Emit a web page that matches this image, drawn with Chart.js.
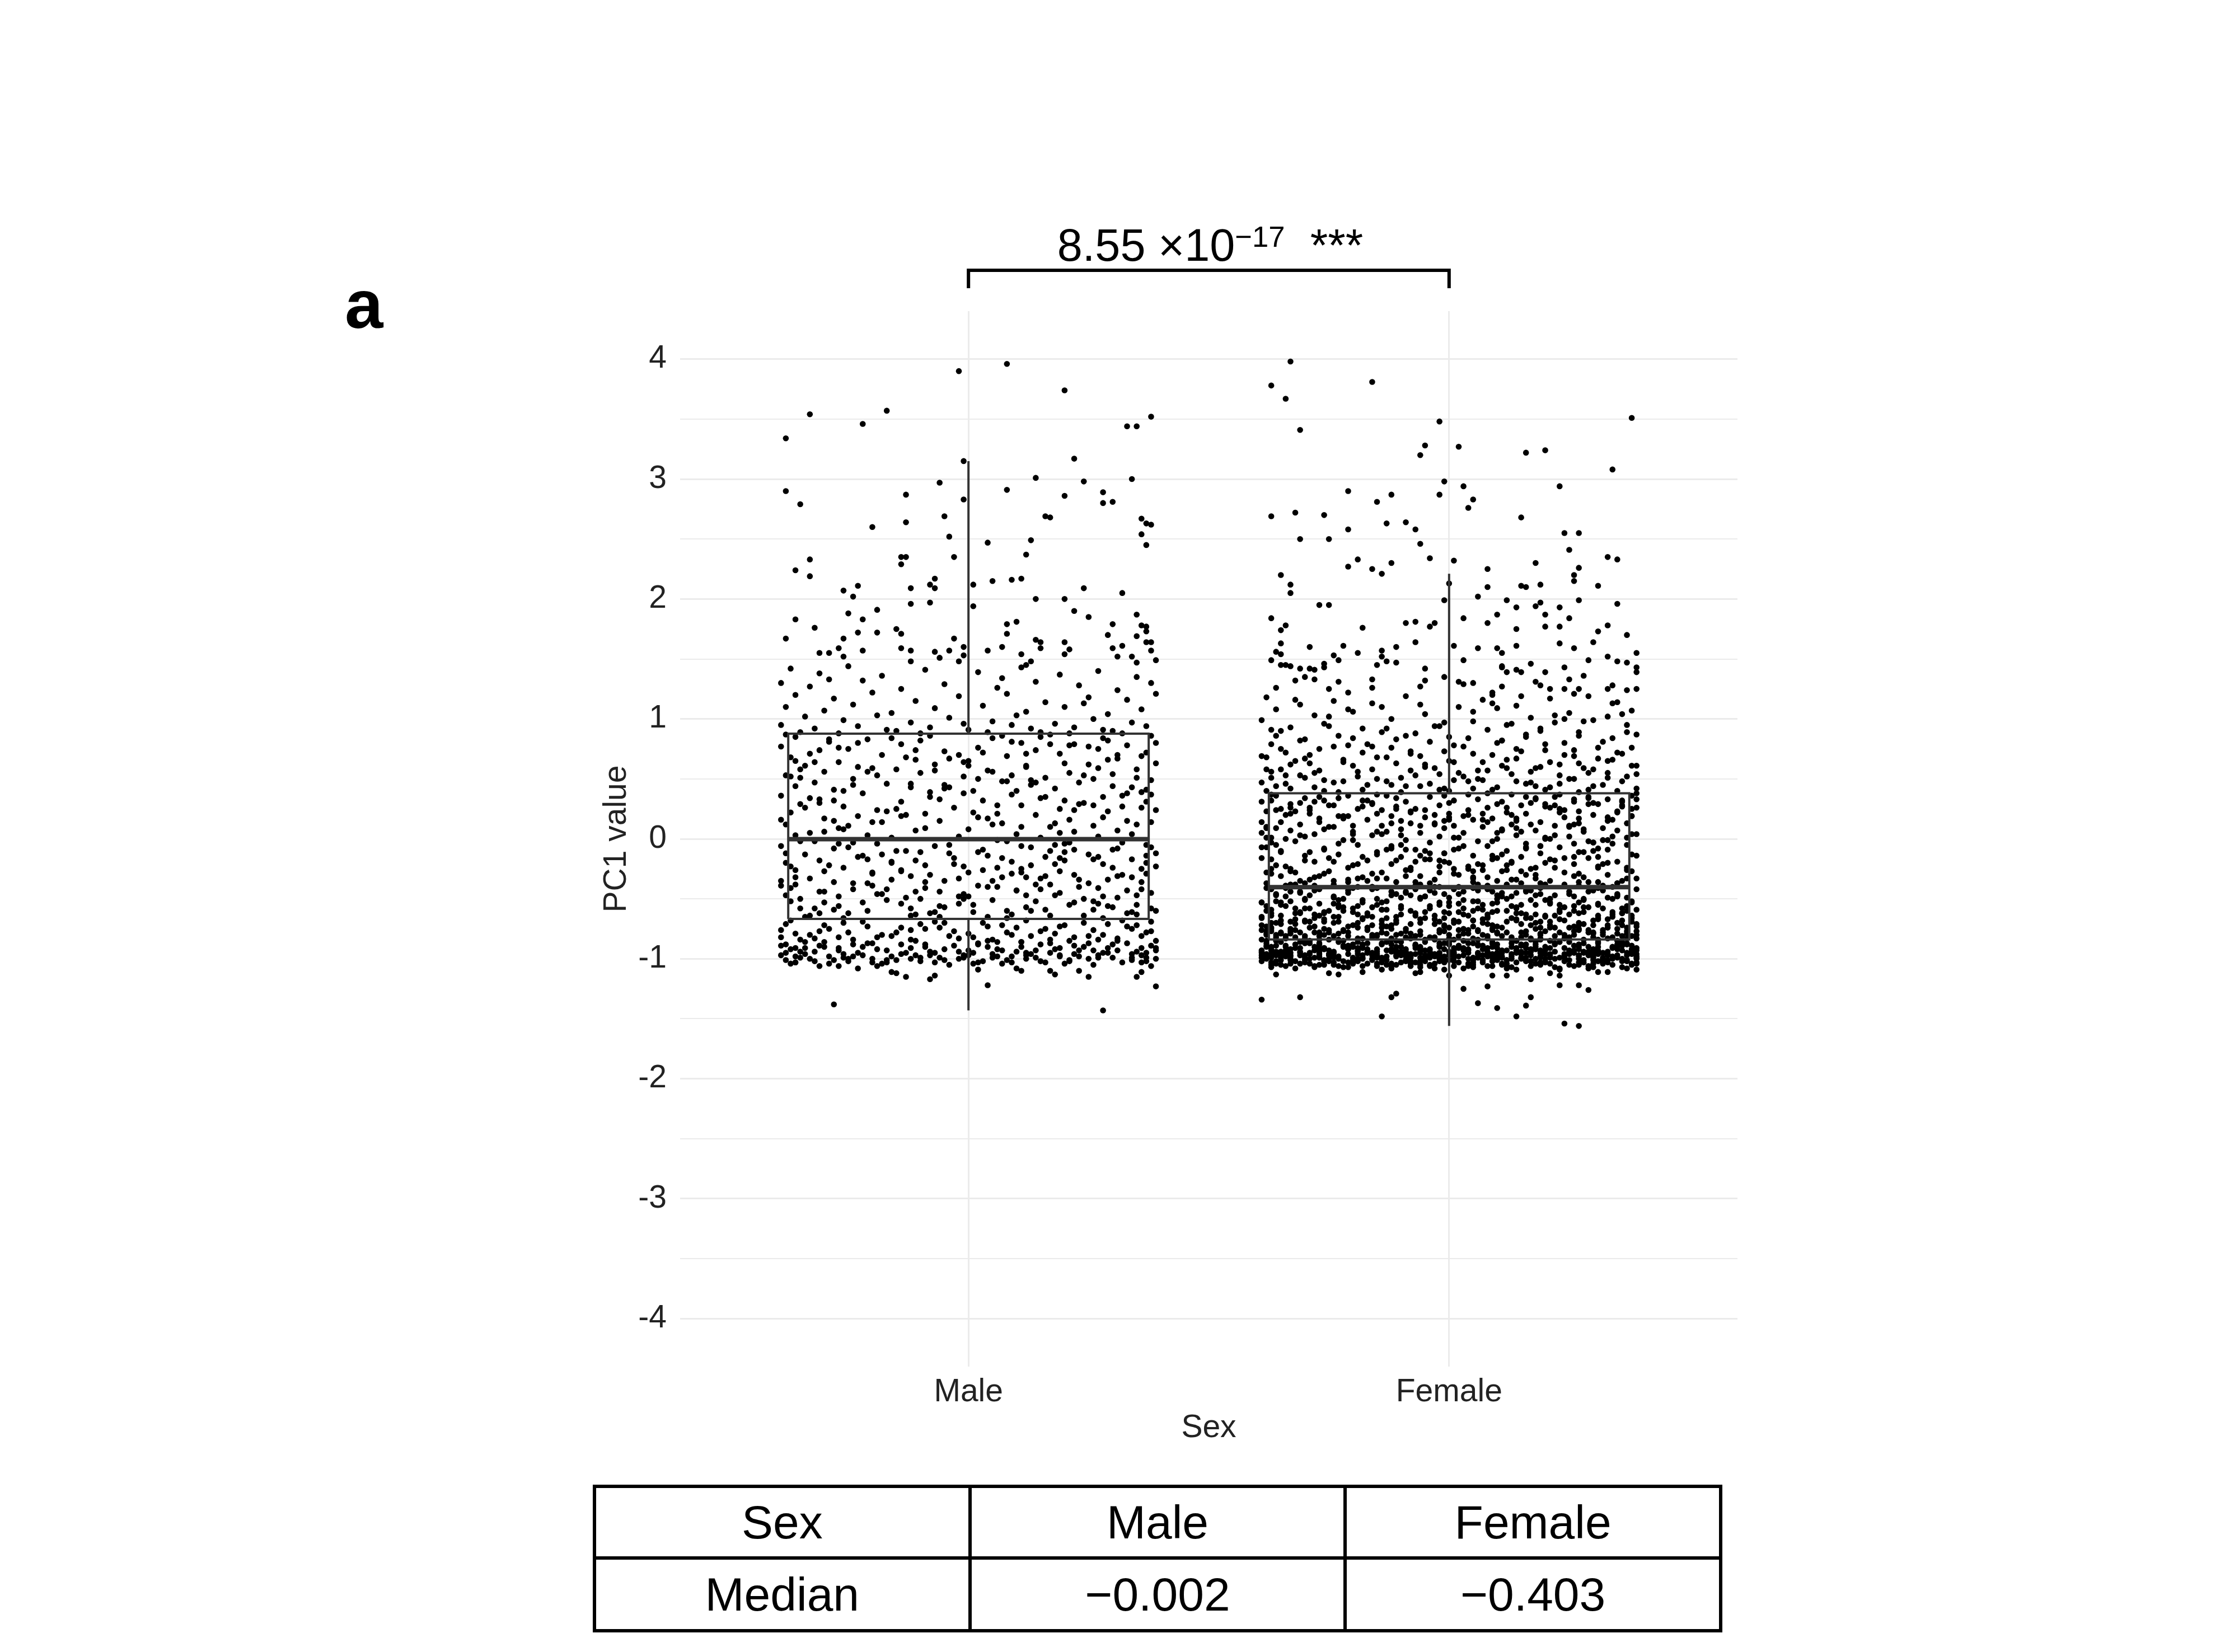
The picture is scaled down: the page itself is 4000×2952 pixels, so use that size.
<!DOCTYPE html>
<html>
<head>
<meta charset="utf-8">
<script src="https://cdn.jsdelivr.net/npm/chart.js@4.4.1/dist/chart.umd.min.js"></script>
<style>
  html, body { margin: 0; padding: 0; background: #fff; }
  body { width: 4000px; height: 2952px; position: relative; overflow: hidden; font-family: "Liberation Sans", Arial, sans-serif; }
  #c { position: absolute; left: 0; top: 0; }
  .panel { position: absolute; left: 616px; top: 482px; font-size: 123px; line-height: 123px; font-weight: bold; color: #000; }
  .ptitle { position: absolute; left: 1662px; top: 398px; width: 1000px; text-align: center; font-size: 81px; line-height: 81px; color: #000; white-space: pre; }
  .ptitle .sup { font-size: 0.65em; position: relative; top: -0.48em; }
  table.stats { position: absolute; left: 1059px; top: 2653px; width: 2018px; border-collapse: collapse; table-layout: fixed; }
  table.stats td { border: 6px solid #000; padding: 0; text-align: center; vertical-align: middle; font-size: 84px; color: #000; }
  table.stats tr.r1 td { height: 122px; }
  table.stats tr.r2 td { height: 124px; }
</style>
</head>
<body>
<canvas id="c" width="4000" height="2952"></canvas>
<div class="panel">a</div>
<div class="ptitle">8.55 ×10<span class="sup">−17</span>  ***</div>
<table class="stats">
  <tr class="r1"><td>Sex</td><td>Male</td><td>Female</td></tr>
  <tr class="r2"><td>Median</td><td>−0.002</td><td>−0.403</td></tr>
</table>
<script>
// 分类与箱线图统计量
const categories = ['Male', 'Female'];
const q1Values = [-0.667, -0.839];
const medianValues = [-0.002, -0.403];
const q3Values = [0.877, 0.380];
const whiskerLow = [-1.43, -1.56];
const whiskerHigh = [3.15, 2.21];

// y 轴刻度（整数为主网格，半数为次网格）
const yTickValues = [-4, -3.5, -3, -2.5, -2, -1.5, -1, -0.5, 0, 0.5, 1, 1.5, 2, 2.5, 3, 3.5, 4];

// 散点：每两个数一组 = [水平抖动偏移, PC1 值]
const malePoints = [
  // 上方稀疏点
  -0.02,3.90, 0.08,3.96, 0.20,3.74, -0.33,3.54, -0.17,3.57, -0.22,3.46, 0.38,3.52, 0.33,3.44, 0.35,3.44, -0.38,3.34,
  0.22,3.17, -0.01,3.15, 0.14,3.01, 0.24,2.98, 0.34,3.00, -0.06,2.97, 0.08,2.91, -0.38,2.90, -0.13,2.87, 0.20,2.86,
  0.28,2.89, 0.28,2.80, 0.30,2.81, -0.01,2.83, -0.35,2.79, -0.05,2.69, 0.16,2.69, 0.17,2.68, 0.36,2.67, 0.37,2.63,
  0.38,2.62, -0.13,2.64, -0.20,2.60, -0.04,2.52, 0.36,2.54, 0.37,2.45, 0.13,2.49, 0.04,2.47, 0.12,2.37, -0.33,2.33,
  -0.14,2.35, -0.13,2.35, -0.14,2.29, -0.03,2.35, -0.33,2.19, -0.36,2.24, 0.09,2.16, 0.11,2.17, 0.05,2.15, -0.07,2.17,
  -0.08,2.12, -0.07,2.09, -0.12,2.09, 0.01,2.12, -0.23,2.11, -0.26,2.07, -0.24,2.02, 0.24,2.09, 0.32,2.05, 0.14,2.00,
  0.20,2.00, -0.12,1.96, -0.08,1.97, 0.01,1.94, -0.36,1.83, -0.25,1.88, -0.19,1.91, 0.22,1.90, 0.35,1.87, -0.38,1.67,
  -0.32,1.76, -0.22,1.83, -0.23,1.72, -0.26,1.67, -0.19,1.72, -0.15,1.75, -0.14,1.71, 0.08,1.79, 0.08,1.71, 0.10,1.81,
  0.25,1.85, 0.30,1.79, 0.36,1.78, 0.37,1.77, 0.35,1.69, 0.37,1.73, 0.14,1.66, 0.15,1.64, 0.15,1.59, 0.20,1.64,
  0.21,1.58, 0.20,1.54, -0.03,1.67, -0.14,1.59, -0.12,1.57, -0.22,1.57, -0.26,1.52, -0.31,1.55, -0.29,1.55, -0.27,1.59,
  -0.12,1.48, -0.07,1.56, -0.06,1.51, -0.04,1.57, -0.01,1.60, -0.01,1.53, -0.02,1.48, 0.04,1.57, 0.07,1.60, 0.11,1.54,
  0.13,1.48, 0.12,1.45, 0.30,1.59, 0.32,1.61, 0.34,1.52, 0.35,1.47, 0.31,1.52, 0.37,1.64, 0.38,1.64, 0.38,1.57,
  0.39,1.49, 0.29,1.70,
  // Q3 以上 0.88 ~ 1.45
  -0.37,1.42, -0.31,1.38, -0.25,1.44, -0.18,1.36, -0.09,1.41, 0.02,1.39, 0.11,1.43, 0.19,1.37, 0.27,1.40, 0.35,1.35,
  -0.39,1.30, -0.33,1.27, -0.22,1.32, -0.14,1.25, -0.05,1.29, 0.06,1.26, 0.14,1.31, 0.23,1.28, 0.31,1.24, 0.38,1.30,
  -0.36,1.20, -0.28,1.17, -0.20,1.22, -0.11,1.15, -0.02,1.19, 0.08,1.21, 0.16,1.14, 0.25,1.18, 0.33,1.16, 0.39,1.21,
  -0.38,1.10, -0.30,1.07, -0.24,1.12, -0.16,1.05, -0.07,1.09, 0.03,1.11, 0.12,1.06, 0.20,1.10, 0.29,1.04, 0.36,1.08,
  -0.34,1.02, -0.26,0.99, -0.19,1.03, -0.12,0.97, -0.04,1.01, 0.05,0.98, 0.10,1.03, 0.18,0.96, 0.26,1.00, 0.34,0.97,
  -0.39,0.95, -0.32,0.92, -0.23,0.94, -0.15,0.90, -0.08,0.93, 0.00,0.91, 0.09,0.95, 0.15,0.89, 0.22,0.93, 0.30,0.90,
  0.37,0.94, -0.35,0.89, -0.27,0.88, -0.17,0.91, -0.10,0.88, 0.04,0.89, 0.13,0.92, 0.21,0.88, 0.28,0.91, 0.32,0.88,
  -0.01,0.96, 0.24,1.13, -0.29,1.33, 0.07,1.34,
  // 箱体上半 0 ~ 0.877
  -0.36,0.85, -0.21,0.83, -0.08,0.86, 0.05,0.84, 0.17,0.87, 0.29,0.82, 0.38,0.86, -0.29,0.81, 0.11,0.80, -0.14,0.79,
  0.33,0.78, -0.39,0.77, 0.02,0.76, -0.25,0.75, 0.22,0.79, -0.05,0.73, 0.14,0.74, 0.37,0.72, -0.33,0.71, 0.27,0.75,
  -0.18,0.70, 0.08,0.69, -0.37,0.68, 0.31,0.67, -0.11,0.66, 0.19,0.71, -0.27,0.64, 0.00,0.65, 0.39,0.63, -0.02,0.70,
  0.25,0.62, -0.34,0.61, 0.12,0.60, -0.20,0.59, 0.35,0.58, -0.07,0.62, 0.04,0.57, -0.30,0.56, 0.21,0.55, -0.15,0.58,
  0.30,0.54, -0.38,0.53, -0.01,0.52, 0.16,0.51, -0.24,0.50, 0.38,0.49, -0.10,0.55, 0.07,0.48, -0.32,0.47, 0.26,0.50,
  -0.17,0.46, 0.13,0.45, -0.36,0.44, 0.34,0.43, -0.05,0.42, 0.23,0.47, -0.28,0.41, 0.01,0.40, 0.18,0.42, -0.12,0.43,
  0.36,0.39, -0.22,0.38, 0.09,0.37, -0.39,0.36, 0.28,0.35, -0.08,0.39, 0.15,0.34, -0.31,0.33, 0.03,0.32, 0.32,0.36,
  -0.14,0.31, 0.24,0.30, -0.35,0.29, 0.06,0.28, -0.26,0.27, 0.37,0.31, -0.03,0.26, 0.19,0.25, -0.19,0.24, 0.11,0.28,
  0.29,0.23, -0.37,0.22, -0.09,0.21, 0.14,0.20, -0.23,0.19, 0.39,0.24, 0.02,0.18, -0.30,0.17, 0.21,0.16, -0.13,0.20,
  0.33,0.15, -0.18,0.14, 0.07,0.13, -0.38,0.12, 0.26,0.11, -0.06,0.15, 0.17,0.10, -0.27,0.09, 0.00,0.08, 0.35,0.12,
  -0.11,0.07, 0.22,0.06, -0.33,0.05, 0.10,0.04, -0.21,0.03, 0.31,0.07, -0.02,0.02, 0.15,0.01, -0.36,0.03, 0.27,0.02,
  -0.16,0.84, 0.09,0.81, 0.25,0.77, -0.31,0.74, 0.36,0.69, -0.04,0.67, 0.20,0.63, -0.23,0.60, 0.05,0.56, -0.37,0.52,
  0.13,0.49, -0.12,0.46, 0.30,0.44, -0.26,0.40, 0.38,0.37, -0.06,0.33, 0.23,0.29, -0.34,0.26, 0.01,0.22, 0.28,0.18,
  -0.20,0.14, 0.11,0.10, -0.30,0.06, 0.34,0.04, -0.09,0.09, 0.18,0.13, -0.39,0.16, 0.06,0.21, -0.15,0.25, 0.32,0.27,
  -0.28,0.32, 0.16,0.35, -0.01,0.38, 0.37,0.41, -0.24,0.45, 0.08,0.48, -0.35,0.51, 0.24,0.53, -0.07,0.57, 0.12,0.61,
  -0.32,0.64, 0.29,0.66, -0.13,0.68, 0.03,0.72, -0.27,0.76, 0.21,0.78, 0.39,0.80, -0.10,0.82, 0.15,0.85, -0.38,0.87,
  0.19,0.05, -0.25,0.11, 0.04,0.17, -0.17,0.23, 0.26,0.28, -0.33,0.34, 0.10,0.40, -0.05,0.45, 0.35,0.51, -0.21,0.56,
  0.00,0.61, -0.36,0.65, 0.31,0.70, -0.11,0.74, 0.17,0.79, -0.29,0.83, 0.07,0.86, 0.27,0.59, -0.19,0.53, 0.14,0.47,
  -0.04,0.43, 0.33,0.38, -0.31,0.30, 0.22,0.24, -0.14,0.19, 0.05,0.12, -0.26,0.08, 0.38,0.14, -0.08,0.35, 0.12,0.71,
  -0.23,0.80, 0.28,0.84, -0.35,0.58, 0.02,0.50, 0.20,0.32, -0.16,0.01, 0.36,0.26, -0.01,0.64, 0.09,0.53, -0.28,0.15,
  // 箱体下半 -0.667 ~ 0
  -0.35,-0.02, -0.19,-0.04, 0.06,-0.01, 0.21,-0.03, 0.37,-0.05, -0.07,-0.06, 0.13,-0.07, -0.28,-0.08, 0.30,-0.09, -0.13,-0.10,
  0.02,-0.11, -0.38,-0.12, 0.25,-0.13, -0.22,-0.14, 0.16,-0.15, -0.03,-0.16, 0.34,-0.17, -0.31,-0.18, 0.09,-0.19, -0.16,-0.20,
  0.28,-0.21, -0.09,-0.22, 0.39,-0.23, -0.26,-0.24, 0.11,-0.25, -0.36,-0.26, 0.19,-0.27, 0.00,-0.28, -0.20,-0.29, 0.32,-0.30,
  -0.12,-0.31, 0.07,-0.32, -0.33,-0.33, 0.23,-0.34, -0.05,-0.35, 0.36,-0.36, -0.24,-0.37, 0.14,-0.38, -0.39,-0.39, 0.04,-0.40,
  0.27,-0.41, -0.17,-0.42, 0.10,-0.43, -0.30,-0.44, 0.38,-0.45, -0.01,-0.46, 0.18,-0.47, -0.27,-0.48, 0.31,-0.49, -0.10,-0.50,
  0.05,-0.51, -0.37,-0.52, 0.22,-0.53, -0.14,-0.54, 0.35,-0.55, -0.06,-0.56, 0.12,-0.57, -0.32,-0.58, 0.26,-0.59, -0.21,-0.60,
  0.01,-0.61, 0.33,-0.62, -0.11,-0.63, 0.17,-0.64, -0.34,-0.65, 0.08,-0.66, -0.25,-0.62, 0.38,-0.58, -0.02,-0.54, 0.24,-0.50,
  -0.18,-0.46, 0.15,-0.42, -0.36,-0.38, 0.29,-0.34, -0.08,-0.30, 0.03,-0.26, -0.29,-0.22, 0.20,-0.18, 0.37,-0.14, -0.15,-0.10,
  0.11,-0.06, -0.24,-0.03, 0.31,-0.08, -0.04,-0.12, 0.19,-0.16, -0.38,-0.20, 0.06,-0.24, -0.20,-0.28, 0.34,-0.32, -0.09,-0.36,
  0.23,-0.40, -0.31,-0.44, 0.00,-0.48, 0.14,-0.52, -0.27,-0.56, 0.39,-0.60, -0.12,-0.64, 0.28,-0.66, -0.06,-0.44, 0.09,-0.29,
  -0.34,-0.13, 0.18,-0.05, -0.16,-0.19, 0.36,-0.25, -0.02,-0.33, 0.25,-0.37, -0.37,-0.41, 0.12,-0.47, -0.22,-0.53, 0.30,-0.57,
  -0.07,-0.61, 0.04,-0.65, -0.28,-0.59, 0.21,-0.55, -0.13,-0.49, 0.33,-0.43, -0.39,-0.35, 0.16,-0.31, -0.01,-0.23, 0.27,-0.15,
  -0.25,-0.07, 0.08,-0.02, -0.10,-0.11, 0.37,-0.20, -0.30,-0.27, 0.02,-0.39, 0.19,-0.45, -0.17,-0.51, 0.35,-0.63, -0.05,-0.57,
  0.13,-0.60, -0.33,-0.64, 0.26,-0.52, -0.19,-0.46, 0.06,-0.40, -0.36,-0.32, 0.30,-0.24, -0.11,-0.18, 0.17,-0.10, -0.27,-0.04,
  0.39,-0.12, -0.03,-0.21, 0.22,-0.30, -0.21,-0.37, 0.10,-0.43, -0.35,-0.50, 0.29,-0.56, -0.08,-0.62, 0.15,-0.33, -0.14,-0.26,
  0.32,-0.03, -0.23,-0.15, 0.03,-0.09, -0.38,-0.47, 0.24,-0.64, -0.12,-0.58, 0.07,-0.16, 0.36,-0.42, -0.30,-0.53, 0.18,-0.21,
  -0.16,-0.34, 0.11,-0.28, -0.04,-0.05, 0.28,-0.48, -0.26,-0.66, 0.01,-0.55, 0.34,-0.61, -0.20,-0.39, 0.20,-0.11, -0.37,-0.23,
  0.05,-0.35, -0.11,-0.44, 0.26,-0.17, -0.32,-0.02, 0.16,-0.59, -0.01,-0.50, 0.38,-0.07, -0.24,-0.42, 0.09,-0.63, -0.18,-0.13,
  0.31,-0.31, -0.06,-0.65, 0.13,-0.22, -0.35,-0.58, 0.22,-0.09, -0.14,-0.27, 0.35,-0.47, -0.28,-0.36, 0.04,-0.14, 0.17,-0.38,
  -0.39,-0.06, 0.27,-0.54, -0.09,-0.41, 0.08,-0.60, -0.21,-0.17, 0.37,-0.29, -0.02,-0.48, 0.20,-0.04, -0.31,-0.62, 0.12,-0.32,
  // Q1 以下
  -0.28,-1.38, 0.28,-1.43, 0.04,-1.22, 0.39,-1.23, -0.13,-1.15, -0.15,-1.12, -0.16,-1.11, -0.08,-1.17, -0.07,-1.14, 0.18,-1.13,
  0.17,-1.10, 0.23,-1.10, 0.25,-1.15, 0.35,-1.15, 0.36,-1.11, 0.02,-1.09, 0.02,-1.03, 0.11,-1.10, 0.10,-1.08, -0.23,-1.08,
  -0.27,-1.06, -0.31,-1.06, -0.19,-1.06, -0.20,-1.03, -0.36,-1.03, -0.37,-1.04, 0.38,-1.06,
  -0.37,-0.68, -0.22,-0.69, -0.05,-0.70, 0.12,-0.68, 0.29,-0.71, 0.38,-0.69, -0.30,-0.72, 0.04,-0.73, 0.20,-0.72, -0.14,-0.74,
  0.34,-0.75, -0.39,-0.76, -0.09,-0.75, 0.15,-0.77, -0.25,-0.78, 0.26,-0.76, 0.00,-0.79, -0.33,-0.80, 0.08,-0.78, 0.36,-0.81,
  -0.18,-0.80, 0.22,-0.82, -0.02,-0.83, -0.35,-0.84, 0.31,-0.83, -0.11,-0.85, 0.17,-0.84, -0.27,-0.82, 0.06,-0.86, 0.39,-0.85,
  -0.07,-0.69, 0.24,-0.70, -0.38,-0.71, 0.10,-0.74, -0.21,-0.73, 0.33,-0.73, -0.03,-0.77, 0.18,-0.79, -0.31,-0.77, 0.28,-0.80,
  -0.16,-0.81, 0.01,-0.82, -0.36,-0.79, 0.13,-0.81, 0.37,-0.78, -0.24,-0.84, 0.21,-0.85, -0.12,-0.76, 0.07,-0.72, -0.29,-0.75,
  0.32,-0.68, -0.10,-0.71, 0.16,-0.75, -0.34,-0.86, 0.03,-0.70, 0.27,-0.84, -0.20,-0.87, 0.11,-0.86, -0.04,-0.81, 0.35,-0.72,
  -0.26,-0.70, 0.19,-0.73, -0.06,-0.74, 0.38,-0.77, -0.32,-0.83, 0.09,-0.80, -0.15,-0.78, 0.25,-0.81, -0.39,-0.82, 0.05,-0.84,
  -0.38,-0.88, -0.30,-0.90, -0.21,-0.87, -0.12,-0.91, -0.03,-0.89, 0.06,-0.92, 0.15,-0.88, 0.24,-0.90, 0.33,-0.87, 0.39,-0.93,
  -0.35,-0.94, -0.26,-0.96, -0.17,-0.93, -0.08,-0.97, 0.01,-0.95, 0.10,-0.94, 0.19,-0.98, 0.28,-0.95, 0.36,-0.97, -0.01,-0.99,
  -0.33,-1.00, -0.24,-0.98, -0.15,-1.01, -0.06,-0.99, 0.03,-1.02, 0.12,-1.00, 0.21,-1.01, 0.30,-0.99, 0.37,-1.02, -0.39,-0.97,
  -0.36,-1.03, -0.28,-1.01, -0.18,-1.04, -0.10,-1.02, 0.07,-1.04, 0.16,-1.03, 0.26,-1.05, 0.34,-1.01, -0.04,-1.05, 0.23,-0.93,
  -0.31,-0.89, -0.19,-0.92, -0.09,-0.88, 0.04,-0.90, 0.13,-0.96, 0.22,-0.89, 0.31,-0.93, -0.37,-0.92, 0.38,-0.89, -0.23,-0.95,
  -0.13,-0.95, 0.00,-0.93, 0.09,-0.98, 0.18,-0.92, 0.27,-0.97, 0.35,-0.94, -0.29,-0.98, -0.02,-1.00, 0.14,-0.99, -0.34,-0.96,
  0.25,-1.00, -0.20,-1.00, 0.32,-1.03, -0.11,-0.97, 0.05,-0.96, -0.27,-0.93, 0.17,-0.95, -0.05,-0.92, 0.37,-0.99, -0.16,-0.98,
  0.02,-0.87, -0.38,-1.01, 0.11,-0.90, -0.25,-1.02, 0.29,-0.91, -0.07,-1.03, 0.20,-1.04, -0.32,-0.94, 0.08,-1.01, -0.14,-0.88,
  0.34,-0.96, -0.22,-0.90, 0.15,-1.02, -0.36,-0.91, 0.26,-0.93, -0.01,-0.97, 0.39,-1.00, -0.17,-1.03, 0.06,-0.98, -0.29,-1.04,
  0.12,-0.95, -0.08,-0.94, 0.30,-0.88, -0.26,-0.99, 0.19,-0.97, -0.35,-0.99, 0.01,-1.04, -0.12,-1.00, 0.23,-0.98, 0.36,-0.91,
  -0.34,-0.91, -0.14,-0.96, 0.07,-0.93, 0.27,-0.99, -0.25,-1.00, 0.17,-0.87, 0.37,-0.95, -0.05,-1.01, 0.12,-0.97, -0.38,-0.95,
  0.31,-0.85, -0.19,-0.82, 0.02,-0.88, -0.30,-0.86, 0.22,-0.96, -0.09,-0.90, 0.39,-0.91, -0.22,-0.97, 0.09,-1.03, -0.02,-0.94,
  0.19,-0.91, -0.36,-0.98, 0.34,-0.99, -0.12,-0.84, 0.05,-0.99, -0.27,-0.91, 0.25,-0.87, -0.07,-0.95, 0.14,-0.93, -0.32,-1.02,
  0.29,-0.95, -0.17,-1.01, 0.00,-0.97, -0.39,-0.89, 0.11,-0.86, 0.36,-1.03, -0.24,-0.88, 0.21,-1.02, -0.10,-0.99, 0.04,-0.85
];

const femalePoints = [
  // 上方稀疏点
  -0.33,3.98, -0.37,3.78, -0.16,3.81, -0.34,3.67, -0.31,3.41, -0.02,3.48, 0.38,3.51, -0.06,3.20, -0.05,3.28, 0.02,3.27,
  0.16,3.22, 0.20,3.24, 0.34,3.08, -0.01,2.98, 0.03,2.94, 0.23,2.94, -0.21,2.90, -0.12,2.87, -0.02,2.87, -0.15,2.81,
  0.05,2.83, 0.04,2.76, -0.37,2.69, -0.32,2.72, -0.26,2.70, -0.13,2.63, -0.09,2.64, -0.07,2.58, -0.21,2.58, 0.15,2.68,
  0.24,2.55, 0.27,2.55, 0.25,2.41, -0.31,2.50, -0.25,2.50, -0.06,2.46, -0.04,2.34, 0.01,2.32, -0.19,2.33, -0.21,2.27,
  -0.12,2.30, -0.16,2.25, -0.14,2.21, 0.18,2.30, 0.33,2.35, 0.35,2.33, 0.08,2.25, 0.27,2.26, 0.26,2.20, 0.26,2.15,
  -0.35,2.20, -0.33,2.12, -0.33,2.05, 0.00,2.13, -0.01,1.99, 0.08,2.10, 0.15,2.11, 0.16,2.10, 0.19,2.12, 0.31,2.11,
  0.06,2.02, 0.12,1.99, 0.14,1.93, 0.18,1.94, 0.19,1.97, 0.27,1.99, 0.35,1.96, -0.27,1.95, -0.25,1.95, -0.37,1.84,
  -0.34,1.78, -0.35,1.74, -0.18,1.76, -0.09,1.80, -0.07,1.81, -0.04,1.77, -0.03,1.80, 0.03,1.84, 0.10,1.87, 0.20,1.87,
  0.20,1.77, 0.23,1.93, 0.23,1.77, 0.25,1.84, 0.33,1.78, 0.08,1.80, 0.14,1.75, 0.31,1.73, 0.37,1.70, -0.35,1.63,
  -0.36,1.56, -0.35,1.54, -0.29,1.60, -0.22,1.61, -0.19,1.55, -0.14,1.57, -0.14,1.52, -0.11,1.60, -0.07,1.64, 0.01,1.61,
  0.06,1.59, 0.14,1.61, 0.23,1.63, 0.26,1.59, 0.10,1.59, 0.11,1.55, 0.30,1.64, 0.33,1.52, 0.39,1.55, -0.37,1.49,
  -0.35,1.45, -0.34,1.45, -0.33,1.44, -0.24,1.53, -0.23,1.49, -0.26,1.46, -0.26,1.43, -0.31,1.42, -0.29,1.42, -0.28,1.41,
  -0.30,1.35, -0.28,1.33, -0.15,1.45, -0.13,1.48, -0.11,1.47, -0.05,1.42, -0.05,1.32, -0.06,1.27, -0.01,1.35, 0.03,1.49,
  0.02,1.31, 0.03,1.29, 0.05,1.30, 0.11,1.44, 0.11,1.43, 0.12,1.39, 0.14,1.41, 0.15,1.39, 0.17,1.46, 0.20,1.39,
  0.24,1.43, 0.29,1.49, 0.35,1.48, 0.37,1.47, 0.39,1.43, 0.39,1.39, -0.32,1.32, -0.23,1.31, -0.16,1.33, -0.16,1.26,
  -0.36,1.26, -0.25,1.25, -0.21,1.22, 0.18,1.31, 0.19,1.28, 0.28,1.36, 0.25,1.33, 0.21,1.25, 0.24,1.25, 0.26,1.21,
  0.27,1.25, 0.33,1.25, 0.34,1.28, 0.37,1.24, 0.39,1.25, 0.11,1.27, 0.09,1.22, 0.09,1.20,
  // Q3 以上 0.38 ~ 1.2
  -0.38,1.18, -0.24,1.15, -0.09,1.19, 0.07,1.16, 0.21,1.17, 0.35,1.14, -0.31,1.12, 0.14,1.11, -0.16,1.13, 0.29,1.19,
  0.02,1.10, -0.36,1.08, 0.38,1.07, -0.20,1.06, 0.10,1.09, 0.25,1.05, -0.05,1.04, -0.28,1.03, 0.33,1.02, 0.17,1.01,
  -0.12,1.00, -0.39,0.99, 0.05,0.98, 0.22,0.97, -0.26,0.96, 0.37,0.95, -0.02,0.94, 0.13,0.96, -0.33,0.93, 0.30,0.99,
  -0.18,0.92, 0.08,0.91, -0.35,0.90, 0.27,0.89, -0.07,0.88, 0.19,0.92, 0.39,0.87, -0.23,0.86, 0.00,0.85, -0.14,0.89,
  0.34,0.84, -0.30,0.83, 0.11,0.82, -0.04,0.81, 0.24,0.80, -0.37,0.79, 0.16,0.85, -0.21,0.78, 0.03,0.77, -0.11,0.83,
  0.31,0.76, -0.27,0.75, 0.20,0.74, -0.01,0.73, -0.34,0.72, 0.36,0.71, -0.16,0.77, 0.09,0.70, 0.26,0.69, -0.08,0.71,
  -0.38,0.68, 0.14,0.67, -0.22,0.66, 0.33,0.65, 0.01,0.64, -0.29,0.63, 0.23,0.62, -0.13,0.68, 0.39,0.61, -0.05,0.60,
  0.18,0.59, -0.35,0.58, 0.06,0.57, -0.19,0.56, 0.29,0.55, -0.02,0.54, 0.12,0.59, -0.31,0.53, 0.37,0.52, -0.10,0.51,
  0.25,0.50, -0.26,0.49, 0.04,0.48, -0.39,0.47, 0.16,0.46, 0.32,0.45, -0.15,0.50, -0.06,0.44, 0.21,0.43, -0.33,0.42,
  0.09,0.41, 0.35,0.40, -0.23,0.39, -0.01,0.42, 0.27,0.39, -0.12,0.45, 0.14,0.48, -0.37,0.51, 0.02,0.55, 0.30,0.58,
  -0.20,0.61, 0.07,0.64, -0.30,0.67, 0.24,0.70, -0.08,0.73, 0.38,0.76, -0.17,0.79, 0.11,0.82, -0.36,0.86, 0.19,0.90,
  -0.03,0.94, 0.28,0.98, -0.25,1.02, 0.05,1.06, -0.14,1.10, 0.34,1.13, -0.32,1.16, 0.15,1.19, -0.06,1.12, 0.22,1.03,
  -0.38,0.40, -0.28,0.43, -0.18,0.41, -0.09,0.44, 0.00,0.40, 0.10,0.43, 0.20,0.41, 0.30,0.44, 0.39,0.42, -0.34,0.46,
  -0.24,0.47, -0.13,0.48, -0.04,0.46, 0.07,0.49, 0.17,0.47, 0.26,0.50, 0.36,0.48, -0.30,0.51, -0.19,0.52, -0.07,0.53,
  0.03,0.52, 0.13,0.54, 0.23,0.53, 0.33,0.55, -0.37,0.56, -0.27,0.57, -0.16,0.58, -0.03,0.59, 0.08,0.57, 0.19,0.60,
  0.28,0.59, 0.38,0.61, -0.33,0.62, -0.22,0.64, -0.11,0.63, 0.00,0.65, 0.12,0.66, 0.21,0.64, 0.31,0.67, -0.39,0.69,
  -0.29,0.70, -0.18,0.72, -0.06,0.69, 0.05,0.71, 0.15,0.73, 0.26,0.74, 0.35,0.72, -0.35,0.75, -0.24,0.77, -0.12,0.76,
  0.01,0.78, 0.10,0.80, 0.20,0.79, 0.32,0.81, -0.31,0.82, -0.20,0.84, -0.09,0.86, 0.04,0.84, 0.16,0.87, 0.27,0.86,
  0.37,0.89, -0.37,0.91, -0.25,0.94, -0.13,0.92, -0.01,0.97, 0.12,0.95, 0.24,1.00, 0.36,1.04, -0.21,1.08, 0.09,1.13,
  -0.34,0.53, 0.18,0.44, -0.05,0.62, 0.29,0.41, -0.15,0.68, 0.06,0.50, 0.34,0.66, -0.26,0.40, 0.14,0.75, -0.38,0.58,
  0.23,0.46, -0.10,0.39, 0.01,0.49, -0.28,0.55, 0.39,0.54, -0.17,0.45, 0.11,0.61, -0.08,0.57, 0.27,0.63, -0.32,0.65,
  0.05,0.42, -0.22,0.48, 0.33,0.51, -0.02,0.41, 0.17,0.56, -0.36,0.44,
  // 箱体上半 -0.403 ~ 0.38
  -0.37,0.37, -0.21,0.36, -0.04,0.35, 0.13,0.37, 0.29,0.34, 0.38,0.36, -0.30,0.34, 0.06,0.33, 0.22,0.35, -0.13,0.36,
  0.33,0.33, -0.26,0.32, -0.09,0.31, 0.17,0.30, 0.01,0.32, -0.39,0.31, 0.26,0.33, -0.16,0.30, 0.10,0.29, 0.36,0.31,
  -0.33,0.29, -0.02,0.28, 0.20,0.27, -0.24,0.28, 0.08,0.26, 0.31,0.29, -0.11,0.27, 0.39,0.26, -0.35,0.25, 0.15,0.28,
  -0.19,0.25, 0.04,0.24, 0.27,0.23, -0.07,0.25, 0.35,0.22, -0.29,0.24, 0.12,0.22, -0.15,0.21, 0.23,0.25, -0.38,0.23,
  0.00,0.21, 0.30,0.20, -0.23,0.19, 0.16,0.21, -0.05,0.18, 0.38,0.19, -0.34,0.20, 0.09,0.17, -0.12,0.19, 0.24,0.18,
  -0.27,0.17, 0.05,0.16, 0.33,0.15, -0.17,0.16, 0.19,0.14, -0.01,0.15, -0.39,0.14, 0.27,0.17, -0.08,0.13, 0.13,0.12,
  0.37,0.13, -0.31,0.12, -0.14,0.11, 0.07,0.10, 0.22,0.11, -0.03,0.12, -0.25,0.10, 0.32,0.09, 0.11,0.08, -0.36,0.09,
  -0.10,0.08, 0.18,0.07, -0.20,0.06, 0.03,0.05, 0.28,0.06, -0.33,0.07, 0.39,0.04, -0.06,0.05, 0.14,0.03, -0.28,0.04,
  0.25,0.02, -0.16,0.03, 0.01,0.01, 0.34,0.02, -0.37,0.01, 0.10,0.00, -0.09,-0.01, 0.20,0.00, -0.22,-0.01, 0.06,-0.02,
  -0.32,-0.02, 0.30,-0.03, -0.04,-0.03, 0.16,-0.04, -0.19,-0.05, 0.37,-0.05, -0.12,-0.06, 0.08,-0.06, -0.38,-0.07, 0.23,-0.07,
  0.02,-0.08, -0.26,-0.08, 0.33,-0.09, -0.07,-0.09, 0.12,-0.10, -0.35,-0.10, 0.27,-0.11, -0.15,-0.11, 0.19,-0.12, -0.01,-0.12,
  0.38,-0.13, -0.23,-0.13, 0.05,-0.14, -0.30,-0.14, 0.15,-0.15, -0.10,-0.15, 0.29,-0.16, -0.39,-0.16, 0.09,-0.17, -0.05,-0.17,
  0.22,-0.18, -0.17,-0.18, 0.35,-0.19, -0.28,-0.19, 0.00,-0.20, 0.13,-0.20, -0.12,-0.21, 0.26,-0.21, -0.36,-0.22, 0.07,-0.22,
  -0.02,-0.23, 0.31,-0.23, -0.21,-0.24, 0.18,-0.24, -0.33,-0.25, 0.04,-0.25, 0.37,-0.26, -0.08,-0.26, 0.11,-0.27, -0.25,-0.27,
  0.24,-0.28, -0.14,-0.28, 0.01,-0.29, -0.37,-0.29, 0.16,-0.30, 0.33,-0.30, -0.06,-0.31, -0.27,-0.31, 0.08,-0.32, 0.28,-0.32,
  -0.19,-0.33, 0.39,-0.33, -0.03,-0.34, 0.14,-0.34, -0.31,-0.35, 0.21,-0.35, -0.11,-0.36, 0.05,-0.36, 0.35,-0.37, -0.38,-0.37,
  0.12,-0.38, -0.24,-0.38, 0.27,-0.39, -0.07,-0.39, 0.02,-0.40, -0.16,-0.40, 0.31,-0.36, -0.34,-0.39, 0.19,-0.37, -0.29,-0.34,
  -0.36,0.36, -0.28,0.31, -0.18,0.27, -0.08,0.23, 0.03,0.19, 0.14,0.15, 0.25,0.11, 0.35,0.07, -0.31,0.03, -0.20,-0.01,
  -0.10,-0.05, 0.01,-0.09, 0.11,-0.13, 0.21,-0.17, 0.32,-0.21, -0.37,-0.25, -0.26,-0.29, -0.15,-0.33, -0.04,-0.37, 0.08,-0.39,
  0.18,0.33, 0.29,0.29, 0.38,0.25, -0.33,0.21, -0.22,0.17, -0.12,0.13, -0.01,0.09, 0.10,0.05, 0.20,0.01, 0.30,-0.03,
  -0.39,-0.07, -0.29,-0.11, -0.18,-0.15, -0.07,-0.19, 0.04,-0.23, 0.15,-0.27, 0.26,-0.31, 0.36,-0.35, -0.32,-0.38, -0.21,-0.36,
  -0.11,0.34, 0.00,0.30, 0.12,0.26, 0.23,0.22, 0.33,0.18, -0.35,0.14, -0.24,0.10, -0.13,0.06, -0.02,0.02, 0.09,-0.02,
  0.19,-0.06, 0.30,-0.10, 0.39,-0.14, -0.30,-0.18, -0.20,-0.22, -0.09,-0.26, 0.02,-0.30, 0.13,-0.34, 0.24,-0.38, 0.34,-0.40,
  -0.37,0.32, -0.25,0.28, -0.14,0.24, -0.03,0.20, 0.07,0.16, 0.17,0.12, 0.28,0.08, 0.38,0.04, -0.34,0.00, -0.23,-0.04,
  -0.12,-0.08, -0.01,-0.12, 0.10,-0.16, 0.20,-0.20, 0.31,-0.24, -0.38,-0.28, -0.28,-0.32, -0.17,-0.35, -0.06,-0.38, 0.05,-0.33,
  0.16,0.35, 0.26,0.31, 0.36,0.27, -0.32,0.23, -0.21,0.19, -0.10,0.15, 0.01,0.11, 0.11,0.07, 0.22,0.03, 0.33,-0.01,
  -0.36,-0.05, -0.26,-0.09, -0.15,-0.13, -0.04,-0.17, 0.06,-0.21, 0.17,-0.25, 0.27,-0.29, 0.37,-0.33, -0.30,-0.37, -0.19,-0.40,
  0.04,0.37, -0.17,0.32, 0.21,0.26, -0.29,0.21, 0.34,0.16, -0.06,0.11, 0.15,0.06, -0.38,0.01, 0.26,-0.04, -0.13,-0.09,
  0.09,-0.14, -0.24,-0.19, 0.37,-0.24, -0.02,-0.28, 0.18,-0.33, -0.33,-0.38, 0.29,-0.36, -0.09,-0.31, 0.12,-0.26, -0.19,-0.21,
  0.24,-0.16, -0.35,-0.11, 0.03,-0.06, 0.32,-0.01, -0.14,0.04, 0.14,0.09, -0.27,0.14, 0.38,0.19, -0.05,0.24, 0.20,0.29,
  -0.23,0.34, 0.08,0.38, -0.31,0.30, 0.27,0.13, -0.10,0.03, 0.16,-0.07, -0.37,-0.17, 0.05,-0.27, 0.35,-0.37, -0.18,-0.32,
  0.12,-0.22, -0.04,-0.12, 0.29,-0.02, -0.26,0.08, 0.00,0.18, 0.22,0.28, -0.15,0.37, 0.39,0.33, -0.33,0.26, 0.07,0.21,
  -0.07,-0.36, 0.18,-0.30, -0.34,-0.23, 0.31,-0.15, -0.12,-0.07, 0.02,0.01, 0.25,0.10, -0.22,0.19, 0.36,0.28, -0.01,0.36,
  -0.28,-0.39, 0.10,-0.35, -0.16,-0.29, 0.33,-0.20, -0.05,-0.10, 0.21,0.00, -0.38,0.09, 0.14,0.17, -0.11,0.25, 0.29,0.35,
  0.06,-0.38, -0.21,-0.34, 0.38,-0.27, -0.02,-0.18, 0.16,-0.08, -0.30,0.02, 0.26,0.12, -0.08,0.22, 0.11,0.31, -0.36,0.24,
  0.32,-0.39, -0.13,-0.33, 0.01,-0.25, -0.25,-0.16, 0.19,-0.06, -0.39,0.05, 0.08,0.14, 0.35,0.23, -0.18,0.32, 0.23,0.37,
  -0.03,-0.40, 0.27,-0.36, -0.32,-0.28, 0.13,-0.19, -0.09,-0.09, 0.37,0.01, -0.20,0.11, 0.04,0.20, 0.30,0.30, -0.27,0.35,
  0.15,-0.37, -0.35,-0.31, 0.22,-0.24, -0.06,-0.14, 0.34,-0.04, -0.15,0.06, 0.00,0.16, -0.29,0.26, 0.18,0.34, 0.39,0.38,
  -0.24,-0.35, 0.07,-0.26, -0.11,-0.18, 0.28,-0.11, -0.37,-0.03, 0.11,0.07, -0.03,0.13, 0.24,0.24, -0.16,0.29, 0.36,0.32,
  -0.33,-0.27, 0.05,-0.32, 0.20,-0.38, -0.08,-0.24, 0.31,-0.08, -0.20,0.04, 0.13,0.20, -0.38,0.10, 0.26,-0.15, -0.01,-0.19,
  // 箱体下半 -0.839 ~ -0.403
  -0.38,-0.41, -0.27,-0.42, -0.15,-0.41, -0.04,-0.43, 0.08,-0.42, 0.19,-0.41, 0.30,-0.43, 0.39,-0.42, -0.33,-0.44, -0.21,-0.45,
  -0.09,-0.44, 0.02,-0.46, 0.14,-0.45, 0.25,-0.44, 0.35,-0.46, -0.36,-0.47, -0.24,-0.48, -0.12,-0.47, 0.00,-0.49, 0.11,-0.48,
  0.22,-0.47, 0.33,-0.49, -0.30,-0.50, -0.18,-0.51, -0.06,-0.50, 0.05,-0.52, 0.17,-0.51, 0.28,-0.50, 0.38,-0.52, -0.39,-0.53,
  -0.27,-0.54, -0.14,-0.53, -0.02,-0.55, 0.09,-0.54, 0.21,-0.53, 0.31,-0.55, -0.34,-0.56, -0.22,-0.57, -0.10,-0.56, 0.03,-0.58,
  0.14,-0.57, 0.26,-0.56, 0.36,-0.58, -0.37,-0.59, -0.25,-0.60, -0.13,-0.59, -0.01,-0.61, 0.10,-0.60, 0.23,-0.59, 0.34,-0.61,
  -0.31,-0.62, -0.19,-0.63, -0.07,-0.62, 0.04,-0.64, 0.16,-0.63, 0.27,-0.62, 0.38,-0.64, -0.39,-0.65, -0.28,-0.66, -0.16,-0.65,
  -0.03,-0.67, 0.08,-0.66, 0.20,-0.65, 0.31,-0.67, -0.35,-0.68, -0.23,-0.69, -0.11,-0.68, 0.01,-0.70, 0.12,-0.69, 0.24,-0.68,
  0.35,-0.70, -0.32,-0.71, -0.20,-0.72, -0.08,-0.71, 0.05,-0.73, 0.17,-0.72, 0.28,-0.71, 0.39,-0.73, -0.37,-0.74, -0.26,-0.75,
  -0.14,-0.74, -0.02,-0.76, 0.09,-0.75, 0.21,-0.74, 0.32,-0.76, -0.33,-0.77, -0.21,-0.78, -0.09,-0.77, 0.03,-0.79, 0.15,-0.78,
  0.26,-0.77, 0.37,-0.79, -0.38,-0.80, -0.27,-0.81, -0.15,-0.80, -0.03,-0.82, 0.08,-0.81, 0.19,-0.80, 0.30,-0.82, -0.30,-0.83,
  -0.18,-0.83, 0.00,-0.83, 0.13,-0.82, 0.24,-0.83, 0.36,-0.81, -0.35,-0.79, -0.06,-0.80, 0.06,-0.77, -0.25,-0.76, 0.33,-0.74,
  -0.12,-0.72, 0.18,-0.70, -0.29,-0.69, 0.07,-0.67, 0.38,-0.66, -0.17,-0.64, 0.25,-0.63, -0.05,-0.61, -0.38,-0.60, 0.14,-0.58,
  0.29,-0.57, -0.23,-0.55, 0.02,-0.54, -0.33,-0.52, 0.20,-0.51, -0.10,-0.49, 0.35,-0.48, -0.01,-0.46, 0.11,-0.45, -0.28,-0.43,
  0.31,-0.41, -0.07,-0.42, 0.16,-0.44, -0.36,-0.46, 0.26,-0.48, -0.15,-0.50, 0.06,-0.52, -0.24,-0.54, 0.37,-0.56, -0.04,-0.58,
  0.12,-0.60, -0.32,-0.62, 0.22,-0.64, -0.13,-0.66, 0.01,-0.68, -0.37,-0.70, 0.30,-0.72, -0.19,-0.74, 0.09,-0.76, -0.27,-0.78,
  0.39,-0.80, -0.09,-0.82, 0.19,-0.83, -0.34,-0.81, 0.04,-0.79, -0.22,-0.77, 0.27,-0.75, -0.01,-0.73, 0.15,-0.71, -0.30,-0.69,
  0.23,-0.67, -0.11,-0.65, 0.34,-0.63, -0.26,-0.61, 0.07,-0.59, -0.16,-0.57, 0.18,-0.55, -0.39,-0.53, 0.28,-0.51, -0.06,-0.49,
  0.10,-0.47, -0.31,-0.45, 0.32,-0.43, -0.20,-0.41, 0.03,-0.44, -0.08,-0.47, 0.21,-0.50, -0.35,-0.53, 0.13,-0.56, -0.14,-0.59,
  0.36,-0.62, -0.24,-0.65, 0.05,-0.68, -0.03,-0.71, 0.25,-0.74, -0.37,-0.77, 0.16,-0.80, -0.12,-0.83, 0.30,-0.78, -0.21,-0.73,
  0.08,-0.63, -0.29,-0.58, 0.38,-0.53, -0.05,-0.48, 0.17,-0.43, -0.33,-0.69, 0.27,-0.76, -0.15,-0.81, 0.00,-0.74, -0.39,-0.66,
  -0.36,-0.82, -0.31,-0.78, -0.26,-0.80, -0.19,-0.83, -0.13,-0.79, -0.07,-0.81, 0.01,-0.84, 0.07,-0.80, 0.13,-0.83, 0.19,-0.79,
  0.25,-0.82, 0.32,-0.80, 0.37,-0.83, -0.38,-0.77, -0.33,-0.75, -0.28,-0.73, -0.22,-0.76, -0.16,-0.72, -0.09,-0.75, -0.02,-0.78,
  0.04,-0.76, 0.10,-0.73, 0.16,-0.77, 0.22,-0.74, 0.29,-0.78, 0.35,-0.75, 0.39,-0.77, -0.35,-0.71, -0.30,-0.68, -0.24,-0.70,
  -0.18,-0.67, -0.11,-0.70, -0.05,-0.66, 0.02,-0.69, 0.08,-0.65, 0.14,-0.68, 0.20,-0.64, 0.27,-0.70, 0.33,-0.67, 0.38,-0.69,
  -0.39,-0.84, -0.25,-0.84, -0.12,-0.84, 0.05,-0.83, 0.17,-0.84, 0.28,-0.84, 0.34,-0.82, -0.30,-0.81, -0.08,-0.83, 0.11,-0.81,
  -0.37,-0.62, -0.27,-0.64, -0.20,-0.61, -0.10,-0.63, 0.00,-0.62, 0.09,-0.61, 0.18,-0.63, 0.26,-0.60, 0.36,-0.62, -0.32,-0.58,
  -0.23,-0.57, -0.14,-0.59, -0.04,-0.56, 0.06,-0.58, 0.15,-0.55, 0.24,-0.57, 0.31,-0.54, -0.36,-0.52, -0.18,-0.53, 0.03,-0.51,
  0.21,-0.50, 0.37,-0.49, -0.29,-0.47, -0.11,-0.46, 0.09,-0.44, 0.30,-0.42, -0.34,-0.41, -0.02,-0.40, 0.18,-0.47, -0.21,-0.43,
  -0.33,-0.79, -0.17,-0.76, -0.01,-0.72, 0.12,-0.78, 0.26,-0.73, 0.39,-0.71, -0.26,-0.69, -0.06,-0.67, 0.08,-0.71, 0.32,-0.78,
  -0.38,-0.73, -0.14,-0.71, 0.19,-0.69, 0.34,-0.65, -0.23,-0.65, 0.03,-0.63, -0.31,-0.61, 0.23,-0.61, -0.08,-0.60, 0.14,-0.62,
  -0.35,-0.55, 0.27,-0.53, -0.13,-0.52, 0.10,-0.50, -0.24,-0.49, 0.35,-0.47, -0.03,-0.45, 0.16,-0.43, -0.37,-0.42, 0.05,-0.41,
  0.37,-0.60, -0.20,-0.58, 0.00,-0.56, 0.21,-0.54, -0.30,-0.51, 0.13,-0.48, -0.09,-0.45, 0.29,-0.44, -0.16,-0.42, 0.07,-0.55,
  -0.27,-0.84, -0.04,-0.82, 0.15,-0.82, 0.31,-0.84, -0.36,-0.80, -0.14,-0.78, 0.06,-0.76, 0.24,-0.80, 0.38,-0.81, -0.21,-0.81,
  -0.10,-0.79, 0.02,-0.81, 0.20,-0.77, -0.32,-0.76, 0.29,-0.76, -0.17,-0.74, 0.11,-0.74, -0.39,-0.72, 0.36,-0.72, -0.06,-0.70,
  0.17,-0.66, -0.28,-0.63, 0.32,-0.58, -0.02,-0.53, 0.12,-0.50, -0.34,-0.48, 0.25,-0.46, -0.12,-0.44, 0.01,-0.42, -0.22,-0.60,
  0.08,-0.83, -0.34,-0.83, 0.22,-0.81, -0.11,-0.80, 0.35,-0.79, -0.25,-0.78, -0.01,-0.77, 0.18,-0.75, -0.37,-0.75, 0.27,-0.72,
  -0.19,-0.70, 0.05,-0.68, -0.32,-0.67, 0.31,-0.66, -0.07,-0.64, 0.16,-0.66, -0.26,-0.62, 0.39,-0.59, -0.15,-0.55, 0.02,-0.61,
  0.28,-0.57, -0.38,-0.56, 0.10,-0.53, -0.23,-0.51, 0.34,-0.50, -0.05,-0.48, 0.19,-0.46, -0.31,-0.44, 0.06,-0.43, -0.16,-0.40,
  -0.30,-0.84, 0.13,-0.84, -0.16,-0.82, 0.33,-0.83, 0.00,-0.80, -0.23,-0.79, 0.23,-0.78, -0.06,-0.77, 0.10,-0.79, -0.35,-0.78,
  0.37,-0.74, -0.13,-0.73, 0.03,-0.75, -0.29,-0.74, 0.21,-0.72, -0.02,-0.69, 0.30,-0.68, -0.18,-0.66, 0.14,-0.67, -0.37,-0.64,
  -0.36,-0.70, -0.12,-0.75, 0.09,-0.72, 0.30,-0.79, -0.24,-0.81, 0.17,-0.83, -0.03,-0.64, 0.36,-0.68, -0.30,-0.58, 0.05,-0.60,
  0.23,-0.55, -0.17,-0.62, -0.39,-0.76, 0.13,-0.66, -0.08,-0.79, 0.28,-0.61, -0.22,-0.50, 0.00,-0.53, 0.39,-0.83, -0.28,-0.78,
  0.10,-0.78, -0.14,-0.68, 0.33,-0.72, -0.35,-0.64, 0.19,-0.74, -0.05,-0.84, 0.26,-0.80, -0.19,-0.56, 0.07,-0.70, -0.32,-0.82,
  0.15,-0.62, -0.10,-0.58, 0.37,-0.77, -0.26,-0.67, 0.02,-0.76, 0.21,-0.69, -0.38,-0.79, -0.01,-0.66, 0.31,-0.64, -0.16,-0.80,
  // Q1 以下
  -0.31,-1.32, -0.12,-1.32, -0.11,-1.29, -0.14,-1.48, 0.03,-1.25, 0.08,-1.23, 0.06,-1.37, 0.10,-1.41, 0.14,-1.48, 0.16,-1.39,
  0.17,-1.32, 0.17,-1.17, 0.23,-1.22, 0.27,-1.22, 0.29,-1.26, 0.24,-1.54, 0.27,-1.56, 0.09,-1.14, 0.12,-1.14, 0.23,-1.14,
  0.21,-1.12, -0.36,-1.13, -0.25,-1.12, -0.23,-1.13, -0.18,-1.11, -0.07,-1.12, -0.06,-1.11, 0.00,-1.14, 0.39,-1.09, 0.31,-1.11,
  0.33,-1.11, -0.39,-1.34,
  -0.38,-0.85, -0.29,-0.87, -0.23,-0.84, -0.13,-0.86, -0.07,-0.88, 0.03,-0.85, 0.09,-0.87, 0.19,-0.84, 0.25,-0.86, 0.35,-0.88,
  -0.34,-0.89, -0.26,-0.91, -0.18,-0.88, -0.10,-0.90, -0.01,-0.92, 0.06,-0.89, 0.14,-0.91, 0.22,-0.88, 0.31,-0.90, 0.38,-0.92,
  -0.39,-0.93, -0.31,-0.95, -0.21,-0.92, -0.15,-0.94, -0.04,-0.96, 0.01,-0.93, 0.11,-0.95, 0.17,-0.92, 0.28,-0.94, 0.33,-0.96,
  -0.36,-0.97, -0.27,-0.99, -0.19,-0.96, -0.08,-0.98, -0.02,-1.00, 0.08,-0.97, 0.15,-0.99, 0.24,-0.96, 0.30,-0.98, 0.39,-1.00,
  -0.33,-1.01, -0.24,-1.03, -0.16,-1.00, -0.06,-1.02, 0.04,-1.04, 0.12,-1.01, 0.20,-1.03, 0.27,-1.00, 0.36,-1.02, -0.11,-1.05,
  -0.37,-1.05, -0.28,-1.07, -0.20,-1.04, -0.12,-1.06, -0.03,-1.08, 0.05,-1.05, 0.13,-1.07, 0.21,-1.04, 0.29,-1.06, 0.37,-1.08,
  -0.35,-0.86, -0.22,-0.90, -0.09,-0.94, 0.02,-0.98, 0.16,-1.02, 0.26,-1.06, 0.34,-0.91, -0.30,-0.99, -0.14,-1.03, 0.07,-0.89,
  -0.39,-1.02, -0.25,-0.97, -0.11,-0.93, 0.00,-0.88, 0.14,-0.85, 0.28,-0.95, 0.39,-1.04, -0.32,-0.91, -0.17,-0.87, 0.10,-1.00,
  0.23,-1.09, -0.06,-1.07, -0.27,-1.05, 0.32,-0.99, -0.02,-0.95, 0.18,-0.92, -0.36,-0.89, 0.09,-0.86, -0.20,-1.01, 0.37,-0.87,
  -0.13,-0.98, 0.05,-1.03, 0.27,-0.90, -0.31,-0.94, 0.12,-1.08, -0.23,-0.86, 0.35,-0.97, -0.07,-0.91, 0.20,-1.00, -0.38,-0.98,
  -0.29,-0.85, -0.18,-0.89, -0.05,-0.93, 0.06,-0.96, 0.19,-0.99, 0.30,-1.01, 0.38,-0.95, -0.34,-1.06, -0.12,-1.08, 0.15,-0.88,
  0.25,-0.93, -0.01,-0.87, -0.37,-0.92, 0.11,-1.05, -0.24,-0.99, 0.33,-1.03, -0.09,-1.02, 0.03,-0.91, -0.15,-0.96, 0.21,-0.85,
  -0.32,-0.88, 0.08,-0.94, -0.19,-1.00, 0.29,-1.08, -0.04,-0.99, 0.17,-0.97, -0.26,-1.02, 0.36,-0.89, -0.11,-0.85, 0.01,-1.06,
  0.13,-0.90, -0.35,-0.96, 0.24,-1.02, -0.08,-1.04, 0.39,-0.93, -0.21,-0.92, 0.04,-0.87, -0.30,-1.03, 0.19,-0.95, -0.14,-1.09,
  -0.02,-0.97, 0.31,-0.86, -0.38,-0.87, 0.07,-1.01, -0.17,-0.94, 0.22,-1.07, -0.27,-0.98, 0.14,-0.93, -0.06,-0.90, 0.34,-1.05,
  -0.24,-0.95, 0.01,-1.02, 0.27,-0.97, -0.12,-0.88, 0.18,-1.04, -0.33,-1.00, 0.10,-0.91, -0.04,-1.06, 0.38,-0.96, -0.19,-0.86,
  0.06,-0.84, -0.28,-0.90, 0.32,-1.00, -0.10,-0.97, 0.16,-0.88, -0.36,-0.94, 0.25,-1.05, -0.01,-1.01, -0.22,-1.07, 0.11,-0.98,
  -0.15,-0.92, 0.35,-0.91, -0.31,-1.04, 0.02,-0.89, 0.21,-0.96, -0.07,-1.03, 0.28,-0.87, -0.39,-0.95, 0.09,-1.06, -0.18,-1.00,
  0.17,-1.02, -0.05,-0.86, -0.25,-0.93, 0.37,-1.01, 0.00,-0.94, -0.33,-0.98, 0.26,-0.93, -0.13,-1.05, 0.13,-0.87, -0.20,-0.90,
  0.31,-0.96, -0.08,-0.99, 0.04,-0.92, -0.37,-1.03, 0.20,-0.90, -0.16,-1.01, 0.39,-0.98, -0.27,-0.88, 0.08,-0.95, -0.03,-1.04,
  -0.34,-0.93, 0.23,-0.99, -0.11,-0.95, 0.14,-1.03, -0.23,-1.06, 0.33,-0.94, -0.02,-0.89, 0.05,-1.07, -0.29,-0.96, 0.18,-0.86,
  -0.06,-0.93, 0.27,-1.03, -0.38,-0.90, 0.11,-0.99, -0.18,-0.97, 0.36,-0.86, -0.26,-1.01, 0.01,-0.96, 0.21,-0.91, -0.14,-0.99,
  0.09,-0.96, -0.31,-0.97, 0.30,-1.04, -0.01,-1.00, 0.17,-0.94, -0.21,-0.89, 0.39,-0.91, -0.09,-0.95, 0.24,-0.98, -0.35,-1.01,
  -0.17,-1.04, 0.03,-0.97, 0.35,-0.99, -0.28,-0.93, 0.13,-1.00, -0.04,-0.92, 0.25,-0.96, -0.37,-0.99, 0.07,-1.03, -0.12,-0.94,
  0.19,-0.93, -0.24,-0.98, 0.37,-1.02, -0.07,-0.96, 0.02,-0.91, -0.33,-0.95, 0.28,-1.01, -0.15,-0.97, 0.10,-0.97, -0.01,-1.03,
  -0.39,-0.97, 0.15,-0.96, -0.19,-0.91, 0.32,-0.95, -0.09,-1.01, 0.06,-0.99, -0.27,-0.94, 0.22,-1.00, -0.03,-0.98, 0.38,-0.94,
  -0.22,-1.02, 0.12,-0.93, -0.35,-0.99, 0.29,-0.97, -0.13,-0.93, 0.01,-0.95, 0.20,-1.02, -0.30,-1.01, 0.08,-0.98, -0.05,-0.97,
  0.34,-1.00, -0.16,-0.95, 0.04,-1.00, -0.37,-0.93, 0.24,-0.97, -0.08,-1.02, 0.16,-0.99, -0.25,-0.96, 0.39,-0.96, -0.02,-0.99,
  -0.30,-0.87, 0.14,-0.85, -0.10,-0.86, 0.26,-0.89, -0.36,-0.85, 0.05,-0.87, -0.20,-0.88, 0.35,-0.85, -0.03,-0.84, 0.18,-0.88,
  -0.27,-0.91, 0.09,-0.90, -0.14,-0.88, 0.30,-0.92, -0.38,-0.89, 0.22,-0.87, -0.06,-0.91, 0.38,-0.89, 0.00,-0.86, -0.22,-0.85,
  0.27,-1.05, -0.12,-1.04, 0.08,-1.06, -0.32,-1.08, 0.19,-1.03, -0.24,-1.05, 0.36,-1.07, -0.04,-1.05, 0.14,-1.09, -0.37,-1.07,
  0.03,-1.08, -0.18,-1.06, 0.23,-1.08, -0.29,-1.04, 0.32,-1.04, -0.08,-1.06, 0.11,-1.04, -0.35,-1.05, 0.17,-1.06, -0.01,-1.09,
  0.29,-0.90, -0.17,-0.92, 0.06,-0.95, -0.33,-0.97, 0.20,-0.93, -0.05,-1.00, 0.36,-0.93, -0.25,-1.00, 0.12,-1.01, -0.10,-0.94,
  0.24,-0.99, -0.36,-1.02, 0.01,-0.99, -0.21,-0.96, 0.37,-0.97, -0.07,-0.89, 0.15,-0.94, -0.28,-0.99, 0.31,-1.02, -0.14,-1.01,
  0.07,-0.92, -0.31,-0.91, 0.18,-1.00, -0.02,-1.02, 0.34,-0.98, -0.19,-0.94, 0.10,-0.95, -0.39,-0.94, 0.27,-0.92, -0.11,-0.97,
  -0.06,-0.95, 0.21,-0.97, -0.26,-0.92, 0.39,-1.03, -0.15,-0.99, 0.04,-0.93, 0.30,-0.95, -0.34,-0.96, 0.13,-0.98, -0.23,-1.00,
  0.16,-0.95, -0.09,-0.98, 0.33,-1.01, -0.29,-0.95, 0.00,-0.97, -0.19,-1.02, 0.25,-0.94, -0.38,-1.00, 0.09,-0.99, 0.05,-1.01,
  -0.37,-0.96, -0.20,-0.99, 0.04,-0.95, 0.27,-0.98, -0.10,-1.03, 0.16,-0.91, 0.36,-1.00, -0.28,-1.06, 0.09,-1.02, -0.02,-0.90,
  -0.33,-0.92, -0.16,-0.97, 0.20,-0.96, 0.31,-0.93, -0.06,-0.99, 0.12,-1.04, -0.24,-0.94, 0.38,-1.05, 0.00,-1.01, -0.39,-0.99,
  0.24,-0.91, -0.13,-1.01, 0.07,-0.97, -0.30,-0.97, 0.33,-0.97, -0.21,-1.03, 0.15,-1.00, -0.04,-0.94, 0.28,-1.03, -0.35,-0.94,
  -0.08,-0.96, 0.19,-0.98, -0.26,-0.91, 0.02,-1.03, 0.37,-0.95, -0.17,-0.95, 0.11,-0.93, -0.32,-1.02, 0.25,-1.01, -0.12,-0.92,
  0.05,-0.99, -0.38,-0.96, 0.30,-0.99, -0.23,-0.98, 0.14,-0.95, -0.01,-0.98, 0.22,-0.94, -0.15,-1.04, 0.35,-0.92, -0.27,-0.96,
  0.10,-1.01, -0.09,-0.92, 0.26,-0.95, -0.34,-0.98, 0.03,-0.93, -0.19,-0.93, 0.39,-0.99, 0.17,-1.02, -0.05,-1.02, -0.29,-1.00,
  0.32,-1.02, -0.11,-0.98, 0.08,-0.91, -0.36,-1.04, 0.21,-0.99, -0.03,-0.96, 0.13,-0.96, -0.25,-1.02, 0.29,-0.94, -0.18,-0.99,
  -0.31,-0.86, 0.06,-0.88, 0.23,-0.86, -0.14,-0.87, 0.37,-0.88, -0.22,-0.89, 0.15,-0.89, -0.02,-0.87, 0.31,-0.87, -0.37,-0.90,
  -0.07,-0.89, 0.18,-0.90, -0.27,-0.87, 0.01,-0.91, 0.27,-0.88, -0.18,-0.91, 0.10,-0.88, -0.34,-0.90, 0.34,-0.90, -0.11,-0.90,
  0.04,-1.06, -0.21,-1.07, 0.19,-1.05, -0.33,-1.04, 0.30,-1.07, -0.06,-1.05, 0.12,-1.06, -0.15,-1.06, 0.38,-1.04, -0.26,-1.05
];

// 把 [偏移, 值] 数组转成散点数据
function toScatter(pairs, centre) {
  const out = [];
  for (let i = 0; i + 1 < pairs.length; i += 2) {
    out.push({ x: centre + pairs[i], y: pairs[i + 1] });
  }
  return out;
}

const BOX_HALF = 0.375;
const lineColor = '#333333';

function lineSet(data, width) {
  return {
    type: 'scatter',
    data: data,
    showLine: true,
    fill: false,
    borderColor: lineColor,
    borderWidth: width,
    pointRadius: 0,
    pointHoverRadius: 0,
    order: 1,
    borderCapStyle: 'butt',
    borderJoinStyle: 'miter'
  };
}

const datasets = [];

// 箱线图
categories.forEach((name, i) => {
  const c = i + 1;
  datasets.push(lineSet([
    { x: c - BOX_HALF, y: q1Values[i] }, { x: c + BOX_HALF, y: q1Values[i] },
    { x: c + BOX_HALF, y: q3Values[i] }, { x: c - BOX_HALF, y: q3Values[i] },
    { x: c - BOX_HALF, y: q1Values[i] }
  ], 4));
  datasets.push(lineSet([{ x: c - BOX_HALF, y: medianValues[i] }, { x: c + BOX_HALF, y: medianValues[i] }], 8));
  datasets.push(lineSet([{ x: c, y: q3Values[i] }, { x: c, y: whiskerHigh[i] }], 4));
  datasets.push(lineSet([{ x: c, y: q1Values[i] }, { x: c, y: whiskerLow[i] }], 4));
});

// 抖动散点
[malePoints, femalePoints].forEach((pts, i) => {
  datasets.push({
    type: 'scatter',
    data: toScatter(pts, i + 1),
    pointRadius: 5.3,
    pointHoverRadius: 5.3,
    pointBackgroundColor: '#000',
    pointBorderWidth: 0,
    order: 2
  });
});

// 显著性括号
const bracketPlugin = {
  id: 'bracket',
  afterDraw(chart) {
    const { ctx, chartArea, scales } = chart;
    const x1 = scales.x.getPixelForValue(1);
    const x2 = scales.x.getPixelForValue(2);
    const yTop = chartArea.top - 73;
    const yEnd = chartArea.top - 41;
    ctx.save();
    ctx.strokeStyle = '#000';
    ctx.lineWidth = 6;
    ctx.lineJoin = 'miter';
    ctx.beginPath();
    ctx.moveTo(x1, yEnd);
    ctx.lineTo(x1, yTop);
    ctx.lineTo(x2, yTop);
    ctx.lineTo(x2, yEnd);
    ctx.stroke();
    ctx.restore();
  }
};

Chart.defaults.font.family = '"Liberation Sans", Arial, sans-serif';
Chart.defaults.color = '#222';

new Chart(document.getElementById('c'), {
  type: 'scatter',
  data: { datasets },
  options: {
    responsive: false,
    devicePixelRatio: 1,
    animation: false,
    events: [],
    layout: { padding: { left: 986, right: 896, top: 556, bottom: 362 } },
    plugins: { legend: { display: false }, tooltip: { enabled: false } },
    scales: {
      x: {
        type: 'linear',
        min: 0.4,
        max: 2.6,
        afterBuildTicks: s => { s.ticks = categories.map((c, i) => ({ value: i + 1 })); },
        afterFit: s => { s.height = 148; },
        ticks: {
          callback: v => categories[v - 1],
          font: { size: 57 },
          color: '#222',
          padding: 12,
          maxRotation: 0
        },
        grid: { color: '#ebebeb', lineWidth: 3, drawTicks: false },
        border: { display: false },
        title: { display: true, text: 'Sex', font: { size: 57 }, color: '#222', padding: { top: 0, bottom: 4 } }
      },
      y: {
        type: 'linear',
        min: -4.4,
        max: 4.4,
        afterBuildTicks: s => { s.ticks = yTickValues.map(v => ({ value: v })); },
        afterFit: s => { s.width = 229; },
        ticks: {
          callback: v => (Number.isInteger(v) ? String(v) : ''),
          font: { size: 57 },
          color: '#222',
          padding: 24
        },
        grid: {
          color: '#ebebeb',
          lineWidth: ctx => (ctx.tick && Number.isInteger(ctx.tick.value) ? 3 : 2),
          drawTicks: false
        },
        border: { display: false },
        title: { display: true, text: 'PC1 value', font: { size: 57 }, color: '#222', padding: { top: 82, bottom: 0 } }
      }
    }
  },
  plugins: [bracketPlugin]
});
</script>
</body>
</html>
